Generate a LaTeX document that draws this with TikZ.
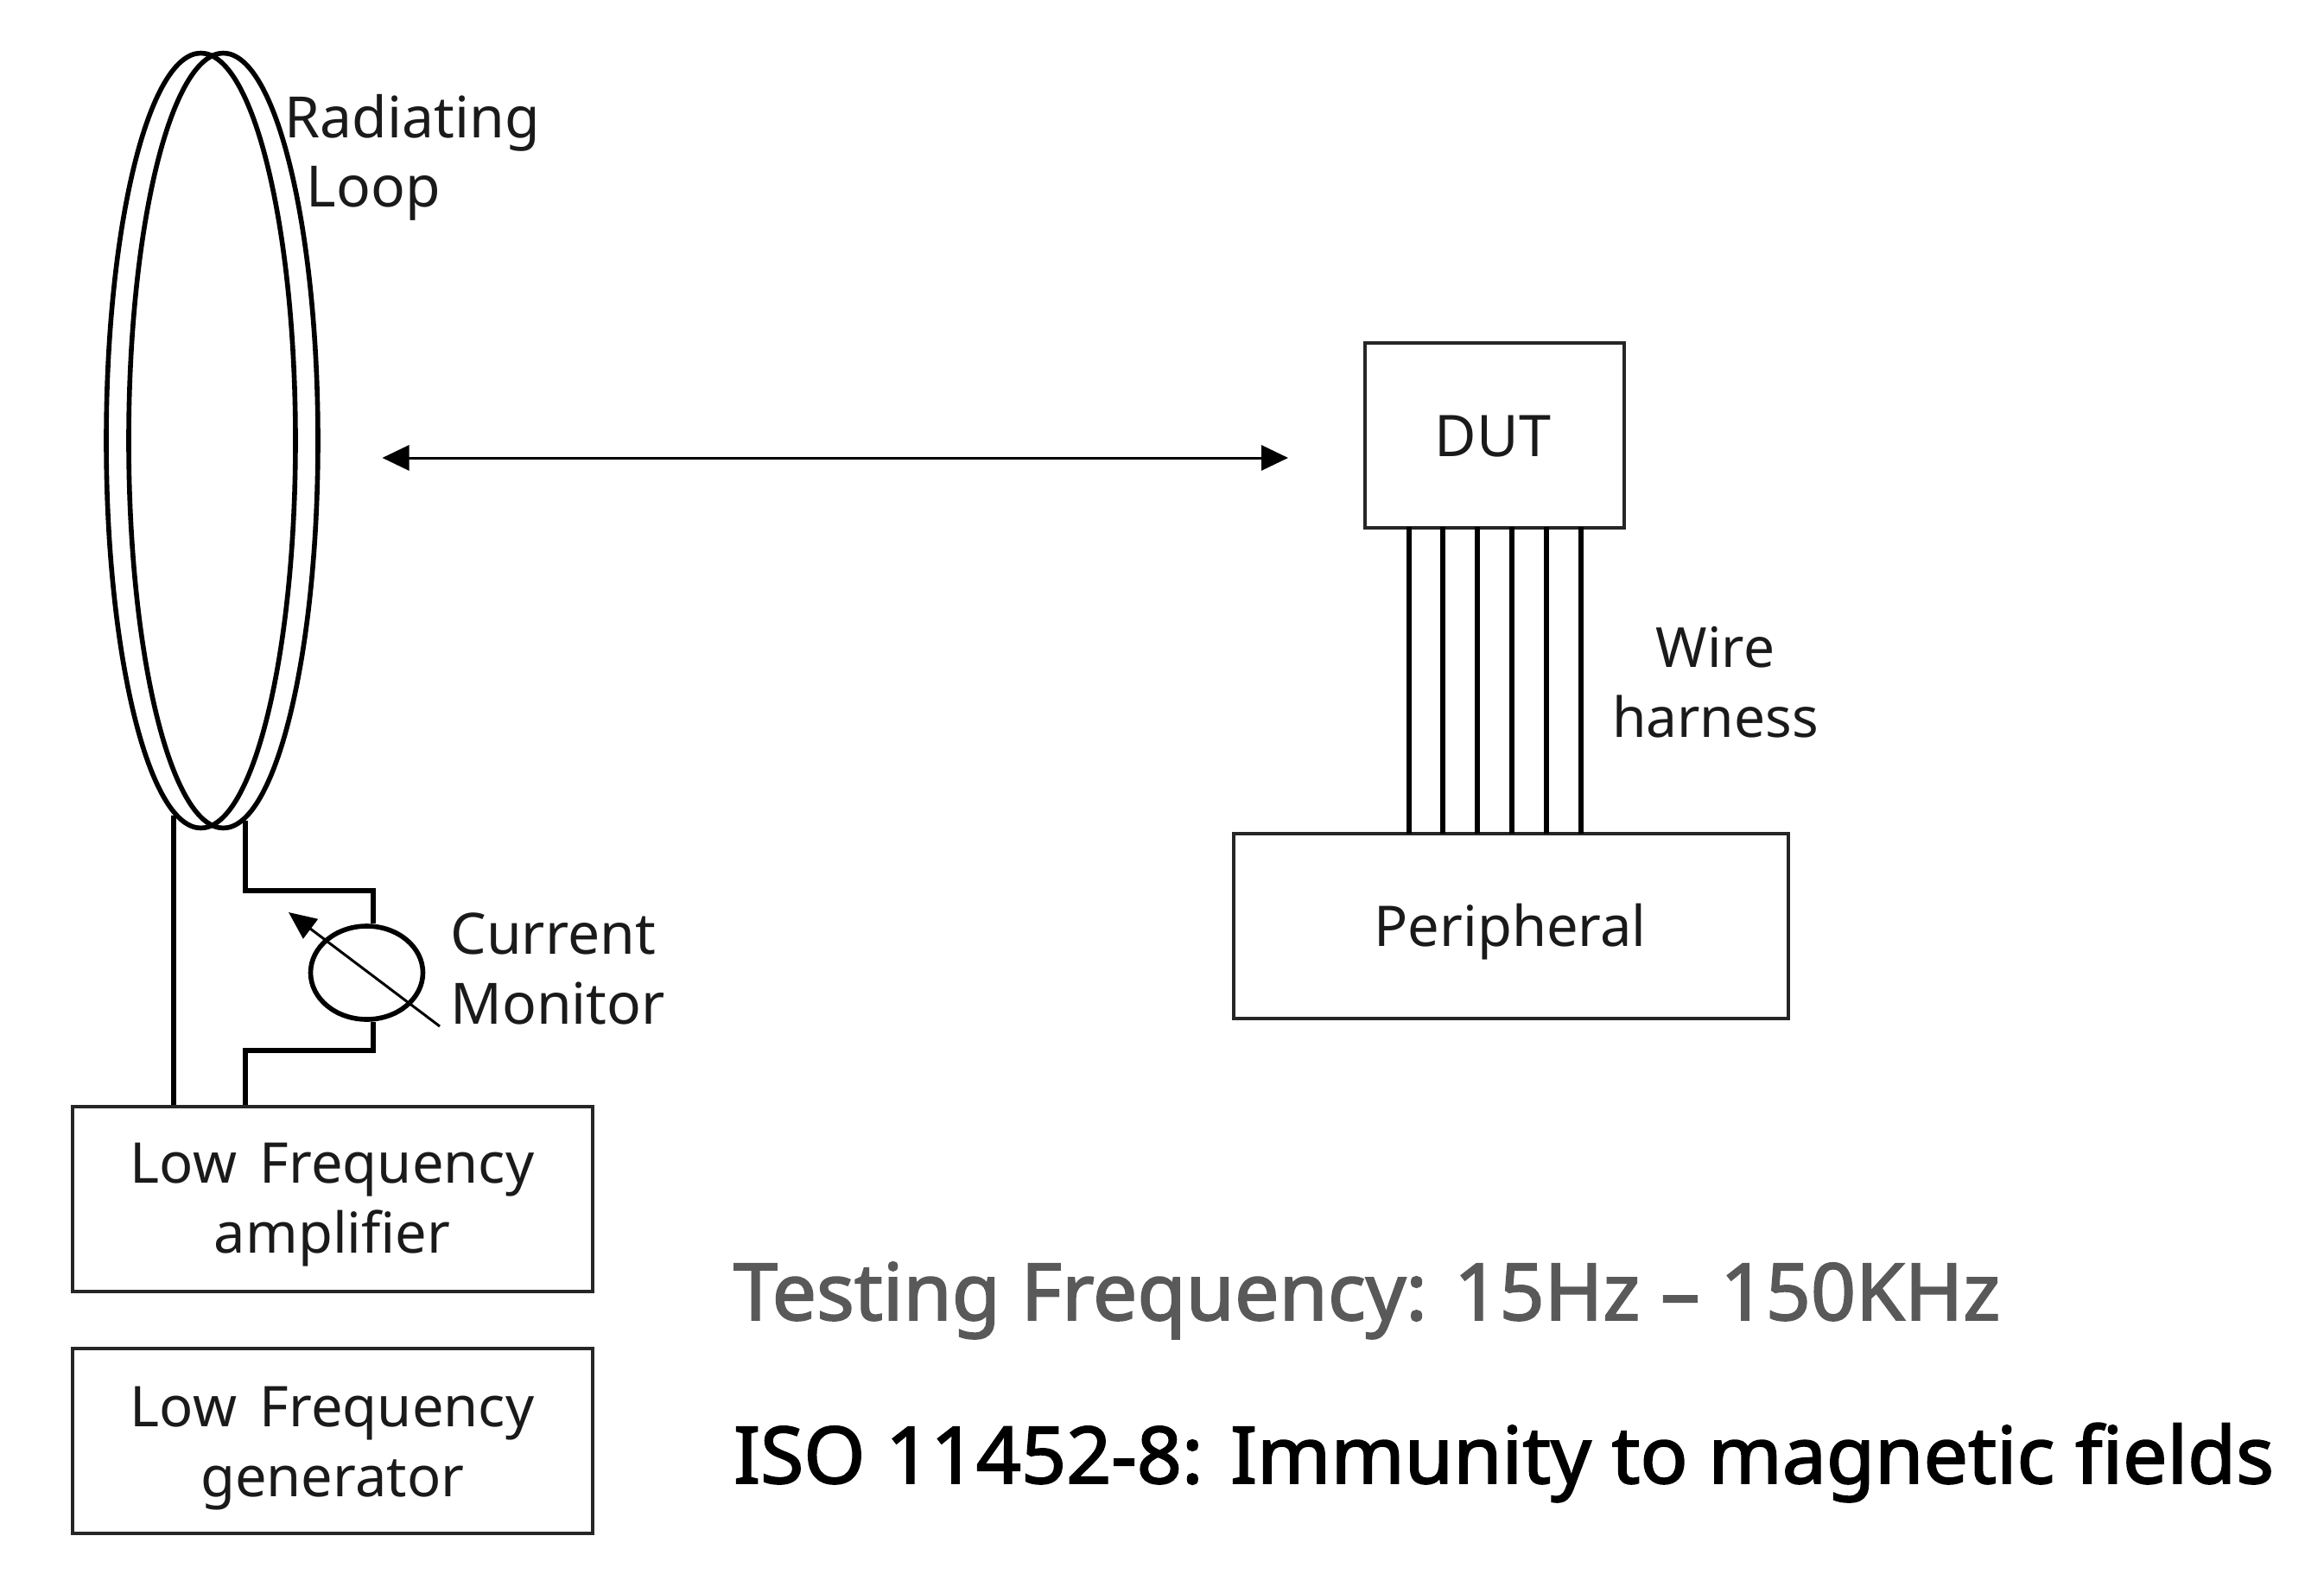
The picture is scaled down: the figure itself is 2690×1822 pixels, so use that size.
\documentclass[tikz,border=0pt]{standalone}
\usepackage{fontspec}
\usetikzlibrary{arrows.meta,shapes.geometric}
\setmainfont{Noto Sans}
\newfontfamily\bigfont[FakeBold=2]{Noto Sans}
\definecolor{boxline}{HTML}{262626}
\definecolor{graytext}{HTML}{595959}
\definecolor{ink}{HTML}{1A1A1A}
\tikzset{
  wire/.style={line width=6pt,black},
  oval/.style={draw=black,line width=5.6pt,ellipse,inner sep=0pt},
  boxed/.style={draw=boxline,line width=4pt,rectangle,inner sep=0pt},
  thinarrow/.style={line width=3pt,black,{Stealth[length=31pt,width=29pt,inset=0pt]}-{Stealth[length=31pt,width=29pt,inset=0pt]}},
  meterarrow/.style={line width=3pt,black,-{Stealth[length=32pt,width=28pt,inset=0pt]}},
  lbl/.style={inner sep=0pt,text=ink,font=\fontsize{65}{81}\selectfont},
  big/.style={inner sep=0pt,anchor=base west,font=\bigfont\fontsize{91.3}{100}\selectfont}
}
\begin{document}
\begin{tikzpicture}[x=1pt,y=-1pt]
\useasboundingbox (0,0) rectangle (2690,1822);
% radiating loop
\node[oval,minimum width=219pt,minimum height=897pt] (loopL) at (232.5,510) {};
\node[oval,minimum width=219pt,minimum height=897pt] (loopR) at (258.5,510) {};
% boxes
\node[boxed,minimum width=602pt,minimum height=214pt] (amp) at (385,1388) {};
\node[boxed,minimum width=602pt,minimum height=214pt] (gen) at (385,1668) {};
\node[boxed,minimum width=300pt,minimum height=214pt] (dut) at (1730,503.5) {};
\node[boxed,minimum width=642pt,minimum height=214pt] (per) at (1749,1072) {};
% loop feed wires
\coordinate (fL) at (201,944);
\coordinate (fR) at (284,950);
\node[oval,minimum width=130pt,minimum height=108pt] (mon) at (424.5,1126) {};
\coordinate (tc) at (432,1031);
\coordinate (bc) at (432,1216);
\draw[wire] (fL) -- (fL |- amp.north);
\draw[wire,line join=miter] (fR) -- (fR |- tc) -- (tc) -- (tc |- mon.north);
\draw[wire,line join=miter] (bc |- mon.south) -- (bc) -- (fR |- bc) -- (fR |- amp.north);
% meter arrow
\coordinate (mtail) at (509,1188);
\coordinate (mtip) at (334,1056);
\draw[meterarrow] (mtail) -- (mtip);
% field arrow
\coordinate (al) at (442.5,530);
\coordinate (ar) at (1491,530);
\draw[thinarrow] (al) -- (ar);
% harness
\foreach \x in {1630.5,1670.3,1710.1,1749.8,1789.8,1829.8}
  \draw[wire] (\x,610) -- (\x,965);
% labels
\node[lbl,anchor=base west,align=left,font=\fontsize{66}{81}\selectfont] (rad) at (329.5,240) {Radiating\\\hspace*{25pt}Loop};
\node[lbl,align=center] (ampt) at (384.6,1395) {Low\hspace{10pt} Frequency\\amplifier};
\node[lbl,align=center] (gent) at (384.6,1677) {Low\hspace{10pt} Frequency\\generator};
\node[lbl,font=\fontsize{66.5}{81}\selectfont] (dutt) at (1728,505.5) {DUT};
\node[lbl] (pert) at (1748,1079) {Peripheral};
\node[lbl,align=center,font=\fontsize{64}{81}\selectfont] (wh) at (1985.5,790) {Wire\\harness};
\node[lbl,align=left,font=\fontsize{66}{81}\selectfont] (cm) at (645.6,1121.5) {Current\\Monitor};
\node[big,text=graytext] (freq) at (849,1528) {Testing Frequency: 15Hz – 150KHz};
\node[big,text=black] (iso) at (849,1717) {ISO 11452-8: Immunity to magnetic fields};
\end{tikzpicture}
\end{document}
